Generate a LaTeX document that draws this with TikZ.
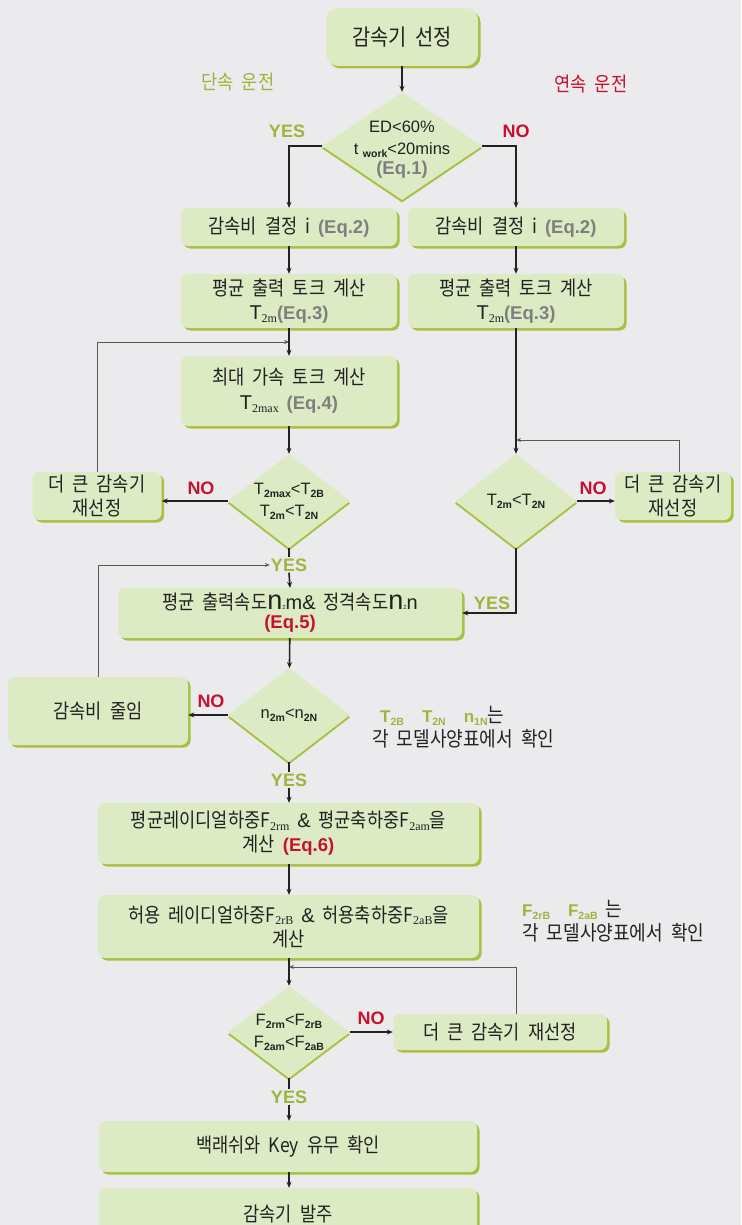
\documentclass[tikz,border=0pt]{standalone}
\usepackage{fontspec}
\setmainfont{Noto Sans CJK KR}[FakeStretch=0.88, WordSpace=2.0]
\newfontfamily\lat{Liberation Sans}
\newfontfamily\ser{Liberation Serif}
\usetikzlibrary{positioning, arrows.meta, shapes.geometric, shadows}
\definecolor{bgGray}{HTML}{EBEBEE}
\definecolor{boxGreen}{HTML}{DCEBC4}
\definecolor{shadeGreen}{HTML}{A8C040}
\definecolor{yesGreen}{HTML}{9CB63A}
\definecolor{noRed}{HTML}{C8102E}
\definecolor{eqGray}{HTML}{7F7F7F}
\definecolor{txtDark}{HTML}{222222}
\newcommand{\eqg}[1]{{\lat\bfseries\fontsize{18.5}{20}\selectfont\color{eqGray}(Eq.#1)}}
\newcommand{\eqr}[1]{{\lat\bfseries\fontsize{18.5}{20}\selectfont\color{noRed}(Eq.#1)}}
\newcommand{\sbb}[1]{\raisebox{-0.35ex}{\lat\bfseries\fontsize{10.5}{10}\selectfont #1}}
\newcommand{\sbs}[1]{\raisebox{-0.25ex}{\ser\fontsize{12}{12}\selectfont #1}}

\begin{document}
\begin{tikzpicture}[
    x=1pt, y=-1pt,
    box/.style={rectangle, rounded corners=7pt, fill=boxGreen, text=txtDark, align=center,
      inner sep=0pt, font=\fontsize{20}{24}\selectfont,
      drop shadow={shadow xshift=2.5pt, shadow yshift=-2.5pt, fill=shadeGreen, opacity=1}},
    dec/.style={diamond, fill=boxGreen, inner sep=0pt,
      drop shadow={shadow xshift=0pt, shadow yshift=-2.5pt, fill=shadeGreen, opacity=1}},
    dtxt/.style={align=center, inner sep=0pt, text=txtDark, font=\lat\fontsize{16.5}{22}\selectfont},
    yes/.style={font=\lat\bfseries\fontsize{18}{18}\selectfont, text=yesGreen, inner sep=1pt},
    no/.style={font=\lat\bfseries\fontsize{18}{18}\selectfont, text=noRed, inner sep=1pt},
    note/.style={align=left, anchor=north west, inner sep=0pt, text=txtDark,
      font=\fontsize{20.5}{24}\selectfont},
    arr/.style={-{Stealth[length=6pt, width=5pt]}, line width=1.6pt, txtDark},
    seg/.style={line width=1.6pt, txtDark},
    back/.style={-{Stealth[length=5pt, width=4pt]}, line width=0.9pt, black!65},
  ]
    \fill[bgGray] (0,0) rectangle (741,1225);
    \clip (0,0) rectangle (741,1225);

    % start
    \node[box, rounded corners=12pt, minimum width=152pt, minimum height=58pt,
      font=\fontsize{22.5}{24}\selectfont] (start) at (402,37) {감속기 선정};
    \node[text=yesGreen, font=\fontsize{20}{22}\selectfont] (mode1) at (238,82) {단속 운전};
    \node[text=noRed, font=\fontsize{20}{22}\selectfont] (mode2) at (591,84) {연속 운전};

    % first decision
    \node[dec, minimum width=160pt, minimum height=108pt] (d1) at (402,146) {};
    \node[dtxt] (t1) at (402,150) {ED<60\%\\t \sbb{work}<20mins\\[-2pt]\eqg{1}};
    \node[yes] (yes1) at (287,131) {YES};
    \node[no] (no1) at (516,131) {NO};

    % two columns
    \node[box, minimum width=216pt, minimum height=38pt] (b2l) at (289,227) {감속비 결정 i \eqg{2}};
    \node[box, minimum width=216pt, minimum height=38pt] (b2r) at (516,227) {감속비 결정 i \eqg{2}};
    \node[box, minimum width=216pt, minimum height=54pt] (b3l) at (289,301)
      {평균 출력 토크 계산\\{\lat T}\sbs{2m}\eqg{3}};
    \node[box, minimum width=216pt, minimum height=54pt] (b3r) at (516,301)
      {평균 출력 토크 계산\\{\lat T}\sbs{2m}\eqg{3}};
    \node[box, minimum width=216pt, minimum height=70pt] (b4) at (289,391)
      {최대 가속 토크 계산\\[1pt]{\lat T}\sbs{2max} \eqg{4}};

    \node[dec, minimum width=122pt, minimum height=94pt] (d2) at (289,501) {};
    \node[dtxt] (t2) at (d2) {T\sbb{2max}<T\sbb{2B}\\T\sbb{2m}<T\sbb{2N}};
    \node[dec, minimum width=122pt, minimum height=94pt] (d3) at (516,501) {};
    \node[dtxt] (t3) at (d3) {T\sbb{2m}<T\sbb{2N}};
    \node[box, minimum width=129pt, minimum height=48pt] (big1) at (97,496) {더 큰 감속기\\재선정};
    \node[box, minimum width=116pt, minimum height=48pt] (big2) at (673,496) {더 큰 감속기\\재선정};
    \node[no] (no2) at (201,488) {NO};
    \node[no] (no3) at (593,488) {NO};
    \node[yes] (yes2) at (289,565) {YES};
    \node[yes] (yes3) at (492,603) {YES};

    \coordinate (j1) at (289,342);
    \coordinate (j2) at (516,440);

    \draw[arr] (start) -- (d1);
    \draw[arr] (d1.west) -| (b2l.north);
    \draw[arr] (d1.east) -| (b2r.north);
    \draw[arr] (b2l) -- (b3l);
    \draw[arr] (b2r) -- (b3r);
    \draw[arr] (b3l) -- (b4);
    \draw[arr] (b4) -- (d2);
    \draw[arr] (b3r) -- (d3);
    \draw[arr] (d2.west) -- (d2.west -| big1.east);
    \draw[arr] (d3.east) -- (d3.east -| big2.west);
    \draw[back] (big1.north) |- (j1);
    \draw[back] ([xshift=6pt]big2.north) |- (j2);

    % speed check
    \node[box, minimum width=344pt, minimum height=50pt] (b5) at (290,613)
      {평균 출력속도{\lat\fontsize{27}{20}\selectfont n}{\lat\fontsize{6}{6}\selectfont 2}{\lat m}{\lat\&} 정격속도{\lat\fontsize{27}{20}\selectfont n}{\lat\fontsize{6}{6}\selectfont 2}{\lat n}\\[-5pt]\eqr{5}};
    \node[dec, minimum width=122pt, minimum height=94pt] (d4) at (289,715) {};
    \node[dtxt] (t4) at (d4) {n\sbb{2m}<n\sbb{2N}};
    \node[box, minimum width=180pt, minimum height=68pt] (red) at (98,711) {감속비 줄임};
    \node[no] (no4) at (211,701) {NO};
    \node[yes] (yes4) at (289,780) {YES};
    \node[note] (note1) at (372,706)
      {\hspace{8pt}{\lat\bfseries\fontsize{17}{20}\selectfont\color{yesGreen}T\sbb{2B}\hspace{18pt}T\sbb{2N}\hspace{18pt}n\sbb{1N}}는\\각 모델사양표에서 확인};

    \draw[seg] (d2.south) -- (yes2.north);
    \draw[arr] (yes2.south) -- (b5.north);
    \draw[arr] (d3.south) |- (b5.east);
    \draw[back] (red.north) |- (yes2.west);
    \draw[arr] (b5) -- (d4);
    \draw[arr] (d4.west) -- (d4.west -| red.east);
    \draw[seg] (d4.south) -- (yes4.north);

    % load check
    \node[box, minimum width=381pt, minimum height=61pt] (b6) at (288.5,833.5)
      {평균레이디얼하중F\sbs{2rm} {\lat\&} 평균축하중F\sbs{2am}을\\계산 \eqr{6}};
    \node[box, minimum width=381pt, minimum height=63pt] (b7) at (288.5,926.5)
      {허용 레이디얼하중F\sbs{2rB} {\lat\&} 허용축하중F\sbs{2aB}을\\계산};
    \node[note] (note2) at (522,900)
      {{\lat\bfseries\fontsize{17}{20}\selectfont\color{yesGreen}F\sbb{2rB}\hspace{18pt}F\sbb{2aB}} 는\\각 모델사양표에서 확인};
    \node[dec, minimum width=122pt, minimum height=92pt] (d5) at (289,1032) {};
    \node[dtxt] (t5) at (d5) {F\sbb{2rm}<F\sbb{2rB}\\F\sbb{2am}<F\sbb{2aB}};
    \node[box, minimum width=214pt, minimum height=36pt] (big3) at (500,1032) {더 큰 감속기 재선정};
    \node[no] (no5) at (371,1018) {NO};
    \node[yes] (yes5) at (289,1097) {YES};
    \coordinate (j3) at (289,967);

    \draw[arr] (yes4.south) -- (b6.north -| yes4.south);
    \draw[arr] (b6.south -| yes4.south) -- (b7.north -| yes4.south);
    \draw[arr] (b7.south -| d5.north) -- (d5.north);
    \draw[arr] (d5.east) -- (big3.west);
    \draw[back] ([xshift=16pt]big3.north) |- (j3);
    \draw[seg] (d5.south) -- (yes5.north);

    % finish
    \node[box, minimum width=378pt, minimum height=51pt] (b8) at (288,1146.5) {백래쉬와 Key 유무 확인};
    \node[box, minimum width=378pt, minimum height=52pt] (b9) at (288,1214) {감속기 발주};
    \draw[arr] (yes5.south) -- (b8.north -| yes5.south);
    \draw[arr] (b8.south -| yes5.south) -- (b9.north -| yes5.south);
  \end{tikzpicture}
\end{document}
